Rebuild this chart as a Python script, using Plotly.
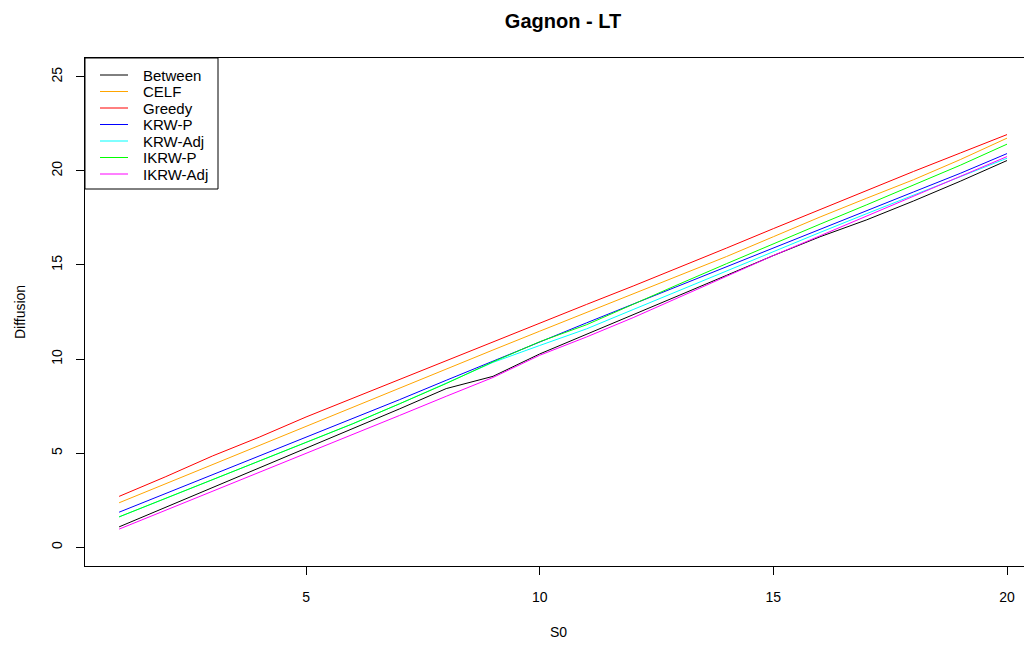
import plotly.graph_objects as go

S0 = list(range(1, 21))

names = ["Between", "CELF", "Greedy", "KRW-P", "KRW-Adj", "IKRW-P", "IKRW-Adj"]
colors = ["#000000", "#FFA500", "#FF0000", "#0000FF", "#00FFFF", "#00FF00", "#FF00FF"]

between = [1.08, 2.12, 3.16, 4.20, 5.24, 6.28, 7.35, 8.43, 9.08, 10.27,
           11.30, 12.35, 13.40, 14.45, 15.50, 16.50, 17.40, 18.40, 19.45, 20.55]
celf = [2.36, 3.38, 4.40, 5.42, 6.44, 7.45, 8.45, 9.47, 10.48, 11.48,
        12.48, 13.49, 14.47, 15.45, 16.50, 17.55, 18.55, 19.53, 20.60, 21.74]
greedy = [2.70, 3.75, 4.85, 5.85, 6.92, 7.92, 8.92, 9.93, 10.93, 11.92,
          12.90, 13.88, 14.88, 15.90, 16.93, 17.95, 18.97, 19.97, 20.95, 21.93]
krw_p = [1.86, 2.85, 3.84, 4.83, 5.82, 6.81, 7.84, 8.87, 9.90, 10.93,
         11.92, 12.92, 13.92, 14.92, 15.91, 16.90, 17.90, 18.88, 19.87, 20.92]
krw_adj = [1.61, 2.60, 3.60, 4.58, 5.57, 6.56, 7.62, 8.70, 9.82, 10.72,
           11.60, 12.63, 13.66, 14.70, 15.73, 16.73, 17.73, 18.72, 19.72, 20.67]
ikrw_p = [1.61, 2.60, 3.60, 4.58, 5.57, 6.56, 7.62, 8.70, 9.85, 10.92,
          11.82, 12.92, 14.00, 15.07, 16.14, 17.17, 18.20, 19.25, 20.30, 21.42]
ikrw_adj = [0.96, 1.96, 2.96, 3.96, 4.96, 5.96, 7.00, 8.02, 9.02, 10.20,
            11.17, 12.20, 13.30, 14.40, 15.50, 16.55, 17.60, 18.65, 19.70, 20.76]

series = [between, celf, greedy, krw_p, krw_adj, ikrw_p, ikrw_adj]

x_ticks = [5, 10, 15, 20]
y_ticks = [0, 5, 10, 15, 20, 25]

FONT = "Arial, Liberation Sans, sans-serif"
# the page body adds an 8px offset; the figure is sized/margined to compensate
OFF = 8
W, H = 1024, 638
L, R, T = 85 - OFF, 0, 58 - OFF
B = H - (566 - OFF)
PW, PH = W - L - R, H - T - B

fig = go.Figure()
for name, col, vals in zip(names, colors, series):
    fig.add_trace(go.Scatter(x=S0, y=vals, mode="lines", name=name,
                             line=dict(color=col, width=1), showlegend=False))

# screen pixel -> paper coordinates, for the hand-made R-style legend
def px(xp):
    return (xp - OFF - L) / PW

def py(yp):
    return (H - B - (yp - OFF)) / PH

shapes = [dict(type="rect", xref="paper", yref="paper",
               x0=px(85), x1=px(218), y0=py(189), y1=py(58),
               line=dict(color="black", width=1), fillcolor="rgba(0,0,0,0)")]
annotations = []
y0 = 75
step = 16.5
for i, (name, col) in enumerate(zip(names, colors)):
    yy = y0 + i * step
    shapes.append(dict(type="line", xref="paper", yref="paper",
                       x0=px(100), x1=px(128), y0=py(yy), y1=py(yy),
                       line=dict(color=col, width=1)))
    annotations.append(dict(xref="paper", yref="paper", x=px(141), y=py(yy),
                            text=name, showarrow=False, xanchor="left", yanchor="middle",
                            font=dict(family=FONT, size=15, color="black")))

fig.update_layout(
    width=W, height=H,
    margin=dict(l=L, r=R, t=T, b=B),
    paper_bgcolor="white", plot_bgcolor="white",
    title=dict(text="<b>Gagnon - LT</b>", x=(563 - OFF) / W, xanchor="center",
               y=1 - (21 - OFF) / H, yanchor="middle",
               font=dict(family=FONT, size=20, color="black")),
    shapes=shapes, annotations=annotations,
    showlegend=False,
)
fig.update_xaxes(range=[0.27, 20.535], tickvals=x_ticks, ticktext=[str(v) for v in x_ticks],
                 showgrid=False, zeroline=False, showline=True, mirror=True,
                 linecolor="black", linewidth=1, ticks="outside", ticklen=8,
                 tickcolor="black", ticklabelstandoff=10,
                 tickfont=dict(family=FONT, size=14, color="black"),
                 title=dict(text="S0", standoff=23, font=dict(family=FONT, size=14, color="black")))
fig.update_yaxes(range=[-1, 26], tickvals=y_ticks, ticktext=[str(v) for v in y_ticks],
                 showgrid=False, zeroline=False, showline=True, mirror=False,
                 linecolor="black", linewidth=1, ticks="outside", ticklen=8,
                 tickcolor="black", tickangle=-90, ticklabelstandoff=8,
                 tickfont=dict(family=FONT, size=14, color="black"),
                 title=dict(text="Diffusion", standoff=20, font=dict(family=FONT, size=14, color="black")))

fig.write_html("out.html")
